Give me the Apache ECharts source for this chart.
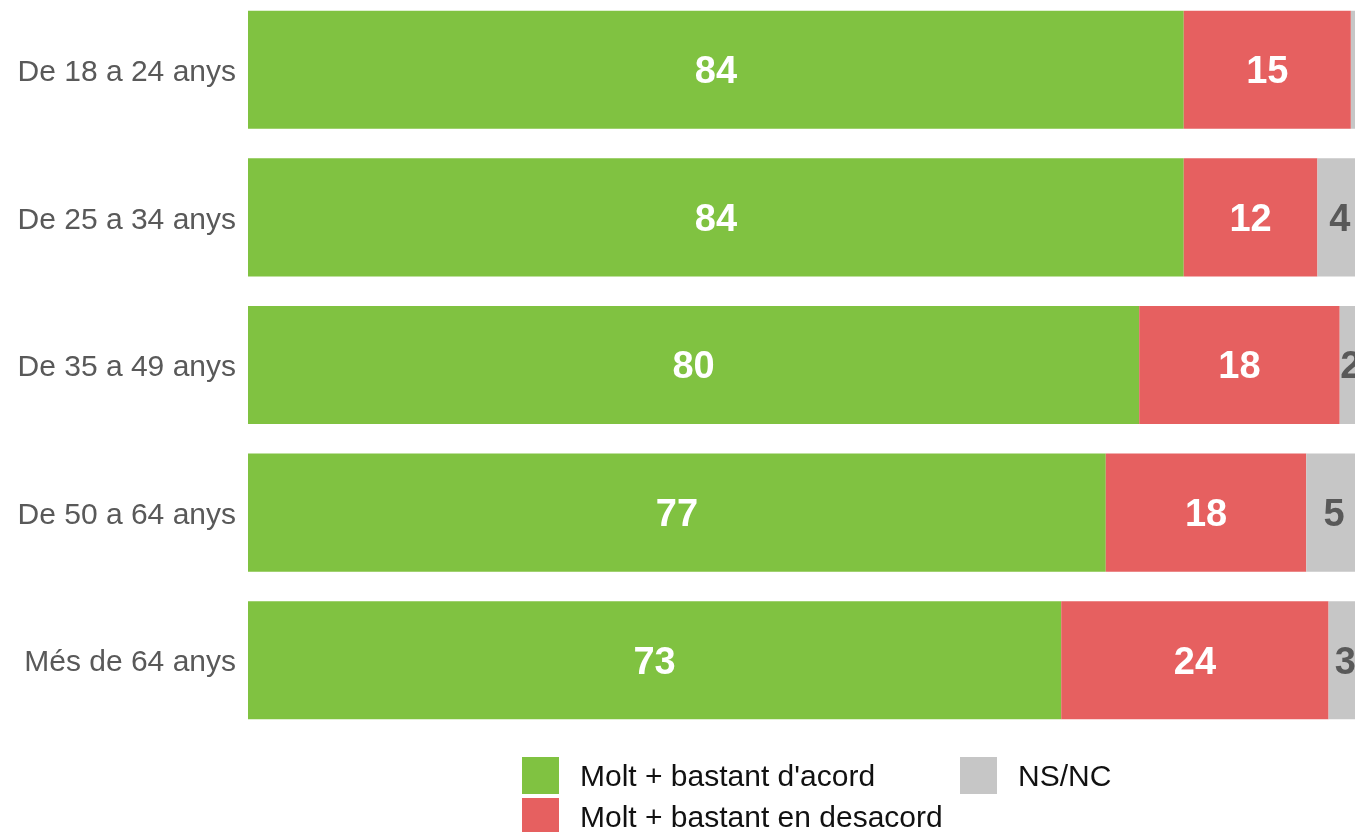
<!DOCTYPE html>
<html>
<head>
<meta charset="utf-8">
<script src="https://cdn.jsdelivr.net/npm/echarts@6/dist/echarts.min.js"></script>
<style>html,body{margin:0;padding:0;background:#fff}#c{width:1355px;height:832px}</style>
</head>
<body>
<div id="c"></div>
<script>
const categories = ['De 18 a 24 anys', 'De 25 a 34 anys', 'De 35 a 49 anys', 'De 50 a 64 anys', 'Més de 64 anys'];
const seriesNames = ["Molt + bastant d'acord", 'Molt + bastant en desacord', 'NS/NC'];
const acord = [84, 84, 80, 77, 73];
const desacord = [15, 12, 18, 18, 24];
const nsnc = [1, 4, 2, 5, 3];
const colors = ['#80C241', '#E66060', '#C6C6C6'];

const chart = echarts.init(document.getElementById('c'), null, {renderer: 'canvas'});
const font = '"Liberation Sans", Arial, sans-serif';
function mk(name, data, color, labelColor) {
  return {
    name: name, type: 'bar', stack: 'total', data: data, barCategoryGap: '20%',
    itemStyle: {color: color},
    label: {
      show: true, position: 'inside', color: labelColor, fontWeight: 'bold',
      fontSize: 38, fontFamily: font, offset: [0, 3],
      formatter: p => (p.value >= 2 ? String(p.value) : '')
    },
    emphasis: {disabled: true}
  };
}
const legendText = {fontSize: 30, fontFamily: font, color: '#111', padding: [0, 0, 0, 16],
  rich: {t: {fontSize: 30, fontFamily: font, color: '#111', padding: [4, 0, 0, 0]}}};
chart.setOption({
  animation: false,
  grid: {left: 248, width: 1114, top: -4, height: 738, containLabel: false, outerBoundsMode: 'none'},
  xAxis: {type: 'value', min: 0, max: 100, show: false},
  yAxis: {
    type: 'category', data: categories, inverse: true,
    axisLine: {show: false}, axisTick: {show: false},
    axisLabel: {color: '#595959', fontSize: 30, fontFamily: font, margin: 12,
      formatter: v => '{t|' + v + '}',
      rich: {t: {color: '#595959', fontSize: 30, fontFamily: font, padding: [6, 0, 0, 0]}}}
  },
  legend: [
    {orient: 'vertical', left: 522, top: 757, height: 120, padding: 0, itemWidth: 37, itemHeight: 37, itemGap: 4,
     data: [seriesNames[0], seriesNames[1]], icon: 'rect', formatter: n => '{t|' + n + '}',
     textStyle: legendText},
    {orient: 'vertical', left: 960, top: 757, height: 120, padding: 0, itemWidth: 37, itemHeight: 37,
     data: [seriesNames[2]], icon: 'rect', formatter: n => '{t|' + n + '}',
     textStyle: legendText}
  ],
  series: [
    mk(seriesNames[0], acord, colors[0], '#fff'),
    mk(seriesNames[1], desacord, colors[1], '#fff'),
    mk(seriesNames[2], nsnc, colors[2], '#595959')
  ]
});
</script>
</body>
</html>
